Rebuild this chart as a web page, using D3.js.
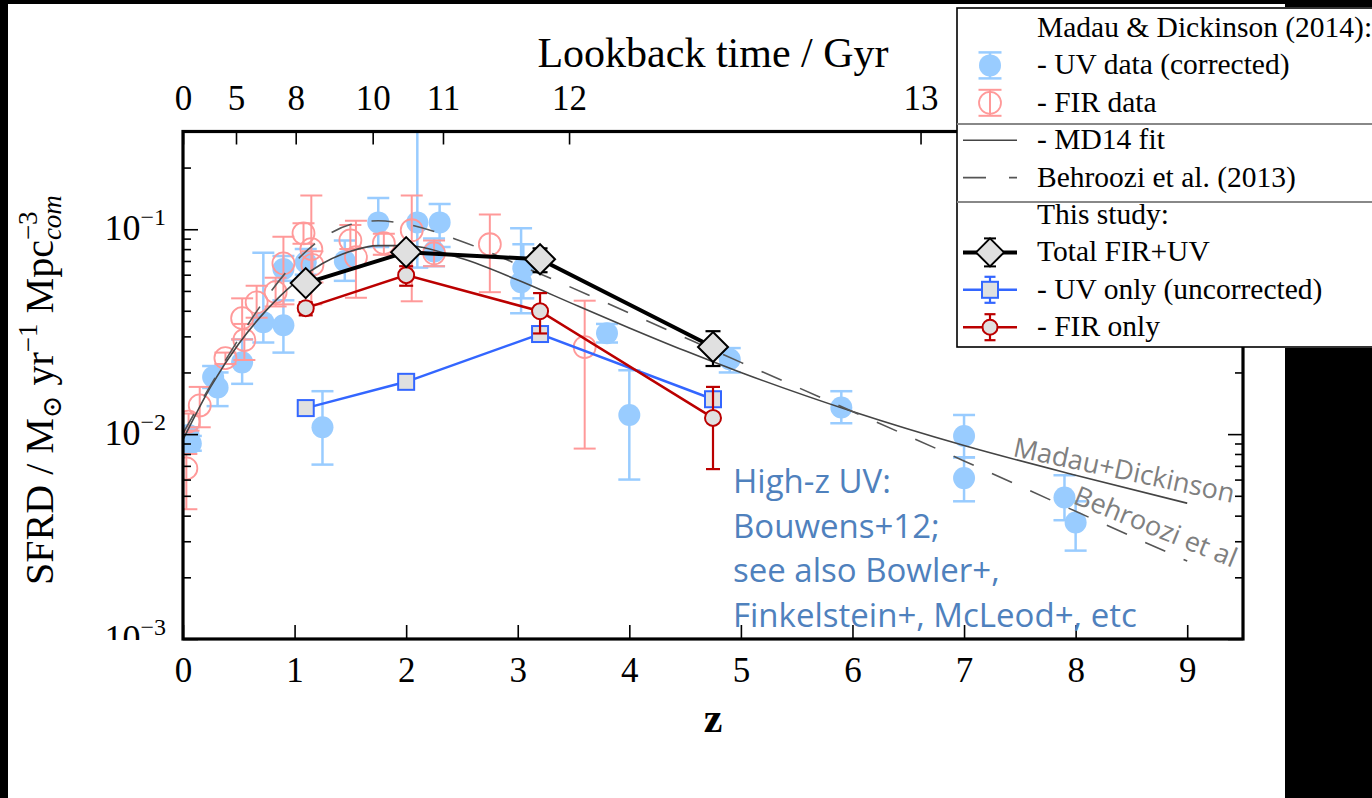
<!DOCTYPE html>
<html>
<head>
<meta charset="utf-8">
<script src="https://cdn.jsdelivr.net/npm/d3@7"></script>
<style>
  body { margin: 0; background: #fff; }
  svg { display: block; }
</style>
</head>
<body>
<div id="chart"></div>
<script>
// Madau & Dickinson (2014) compilation, UV (corrected)
const mdUvZ    = [0.05, 0.07, 0.27, 0.31, 0.53, 0.72, 0.90, 0.90, 1.10, 1.25, 1.45, 1.75, 2.10, 2.25, 2.30, 3.03, 3.05, 3.80, 4.00, 4.90, 5.90, 7.00, 7.00, 7.90, 8.00];
const mdUvSfrd = [0.0099, 0.0090, 0.0190, 0.0169, 0.0224, 0.0352, 0.0340, 0.0640, 0.0690, 0.0108, 0.0700, 0.108, 0.108, 0.078, 0.108, 0.0551, 0.0646, 0.0311, 0.0124, 0.0232, 0.0135, 0.0098, 0.0061, 0.0049, 0.0037];
const mdUvLo   = [0.0090, 0.0083, 0.0168, 0.0137, 0.0176, 0.0280, 0.0250, 0.0560, 0.0600, 0.0071, 0.0560, 0.082, 0.065, 0.066, 0.082, 0.0389, 0.0460, 0.0280, 0.0060, 0.0200, 0.0113, 0.0077, 0.0047, 0.0038, 0.0027];
const mdUvHi   = [0.0108, 0.0098, 0.0215, 0.0200, 0.0290, 0.0768, 0.0450, 0.0740, 0.0800, 0.0162, 0.0880, 0.142, 0.600, 0.090, 0.133, 0.1010, 0.0845, 0.0345, 0.0205, 0.0263, 0.0162, 0.0124, 0.0077, 0.0063, 0.0047];

// Madau & Dickinson (2014) compilation, FIR
const mdFirZ    = [0.03, 0.05, 0.15, 0.38, 0.55, 0.53, 0.66, 0.83, 0.90, 1.08, 1.15, 1.16, 1.50, 1.55, 1.80, 2.05, 2.25, 2.75, 3.60];
const mdFirSfrd = [0.0068, 0.0115, 0.0138, 0.0235, 0.0288, 0.0368, 0.0440, 0.0493, 0.0682, 0.0955, 0.0800, 0.0670, 0.0883, 0.0730, 0.0855, 0.0989, 0.0763, 0.0845, 0.0266];
const mdFirLo   = [0.0043, 0.0104, 0.0108, 0.0220, 0.0230, 0.0290, 0.0370, 0.0420, 0.0430, 0.0850, 0.0430, 0.0550, 0.0800, 0.0463, 0.0750, 0.0445, 0.0660, 0.0493, 0.0085];
const mdFirHi   = [0.0080, 0.0126, 0.0170, 0.0250, 0.0345, 0.0460, 0.0530, 0.0580, 0.0920, 0.1070, 0.1460, 0.0780, 0.1050, 0.1100, 0.0950, 0.1460, 0.0880, 0.1180, 0.0448];

// MD14 fit and Behroozi et al. (2013)
const fitZ    = [0, 0.25, 0.5, 0.75, 1, 1.25, 1.5, 1.75, 2, 2.5, 3, 3.5, 4, 4.5, 5, 6, 7, 8, 9];
const fitSfrd = [0.0094, 0.0171, 0.0276, 0.0404, 0.0546, 0.0680, 0.0781, 0.0832, 0.0831, 0.0719, 0.0565, 0.0431, 0.0330, 0.0255, 0.0200, 0.0129, 0.0088, 0.0063, 0.0046];
const behZ    = [0, 0.25, 0.5, 0.75, 1, 1.25, 1.5, 1.75, 2, 2.5, 3, 4, 5, 6, 7, 8, 9];
const behSfrd = [0.0101, 0.0174, 0.0292, 0.0466, 0.0687, 0.0905, 0.1054, 0.1100, 0.1060, 0.0872, 0.0674, 0.0390, 0.0224, 0.0129, 0.0074, 0.0042, 0.0024];

// This study
const studyZ    = [1.1, 2.0, 3.2, 4.75];
const totalSfrd = [0.0546, 0.0773, 0.0714, 0.0266];
const totalLo   = [0.0525, 0.0745, 0.0617, 0.0215];
const totalHi   = [0.0570, 0.0800, 0.0807, 0.0318];
const uvSfrd    = [0.0134, 0.0180, 0.0308, 0.0148];
const uvLo      = [0.0131, 0.0176, 0.0301, 0.0144];
const uvHi      = [0.0137, 0.0184, 0.0315, 0.0152];
const firSfrd   = [0.0412, 0.0597, 0.0398, 0.0120];
const firLo     = [0.0380, 0.0530, 0.0310, 0.00675];
const firHi     = [0.0440, 0.0660, 0.0488, 0.0170];

// axes
const zTicks        = [0, 1, 2, 3, 4, 5, 6, 7, 8, 9];
const lookbackTicks = [0, 5, 8, 10, 11, 12, 13];
const lookbackZ     = [0, 0.475, 1.01, 1.70, 2.33, 3.46, 6.61];
const yMajor        = [0.001, 0.01, 0.1];
const yExponents    = ['−3', '−2', '−1'];

const legendLabels = ['Madau & Dickinson (2014):', '- UV data (corrected)', '- FIR data', '- MD14 fit',
  'Behroozi et al. (2013)', 'This study:', 'Total FIR+UV', '- UV only (uncorrected)', '- FIR only'];
const noteLines = ['High-z UV:', 'Bouwens+12;', 'see also Bowler+,', 'Finkelstein+, McLeod+, etc'];

const serif = '"Liberation Serif", "DejaVu Serif", serif';
const sans = '"Open Sans", "Noto Sans", sans-serif';

const width = 1372;
const height = 798;
const plot = {left: 183, right: 1243, top: 131.5, bottom: 639};

const colMdUv = '#99ccff';
const colMdFir = '#ff9999';
const colUv = '#3366ff';
const colFir = '#bb0000';
const colFill = '#e0e0e0';

const x = d3.scaleLinear().domain([0, 9.5]).range([plot.left, plot.right]);
const y = d3.scaleLog().domain([0.001, 0.3]).range([plot.bottom, plot.top]);

const svg = d3.select('#chart')
  .append('svg')
  .attr('width', width)
  .attr('height', height);

svg.append('rect').attr('width', width).attr('height', height).attr('fill', '#fff');

const defs = svg.append('defs');
defs.append('clipPath').attr('id', 'plot-clip')
  .append('rect')
  .attr('x', plot.left).attr('y', plot.top)
  .attr('width', plot.right - plot.left).attr('height', plot.bottom - plot.top);
defs.append('clipPath').attr('id', 'label-clip')
  .append('rect')
  .attr('x', 0).attr('y', 0).attr('width', plot.left).attr('height', plot.bottom + 1);

let errorBars = (g, zs, lo, hi, color, lw, cap) => {
  const idx = d3.range(zs.length);
  g.selectAll(null).data(idx).enter().append('line')
    .attr('x1', i => x(zs[i])).attr('x2', i => x(zs[i]))
    .attr('y1', i => y(lo[i])).attr('y2', i => y(hi[i]))
    .attr('stroke', color).attr('stroke-width', lw);
  [lo, hi].forEach(arr => {
    g.selectAll(null).data(idx).enter().append('line')
      .attr('x1', i => x(zs[i]) - cap).attr('x2', i => x(zs[i]) + cap)
      .attr('y1', i => y(arr[i])).attr('y2', i => y(arr[i]))
      .attr('stroke', color).attr('stroke-width', lw);
  });
};

let diamond = s => `M0,${-s}L${s},0L0,${s}L${-s},0Z`;

// ---- data layer ----
const dataLayer = svg.append('g').attr('clip-path', 'url(#plot-clip)');

const uvGroup = dataLayer.append('g');
errorBars(uvGroup, mdUvZ, mdUvLo, mdUvHi, colMdUv, 2.5, 11);
uvGroup.selectAll('circle').data(mdUvZ).enter().append('circle')
  .attr('cx', d => x(d)).attr('cy', (d, i) => y(mdUvSfrd[i]))
  .attr('r', 11).attr('fill', colMdUv);

const firGroup = dataLayer.append('g');
errorBars(firGroup, mdFirZ, mdFirLo, mdFirHi, colMdFir, 2, 11);
firGroup.selectAll('circle').data(mdFirZ).enter().append('circle')
  .attr('cx', d => x(d)).attr('cy', (d, i) => y(mdFirSfrd[i]))
  .attr('r', 11).attr('fill', 'none').attr('stroke', colMdFir).attr('stroke-width', 1.8);

const curveLine = d3.line().x(d => x(d[0])).y(d => y(d[1])).curve(d3.curveMonotoneX);

dataLayer.append('path')
  .datum(fitZ.map((z, i) => [z, fitSfrd[i]]))
  .attr('d', curveLine)
  .attr('fill', 'none').attr('stroke', '#444').attr('stroke-width', 1.6);

dataLayer.append('path')
  .datum(behZ.map((z, i) => [z, behSfrd[i]]))
  .attr('d', curveLine)
  .attr('fill', 'none').attr('stroke', '#555').attr('stroke-width', 1.6)
  .attr('stroke-dasharray', '22,20');

let studySeries = (vals, lo, hi, color, lw, capW, marker) => {
  const g = dataLayer.append('g');
  const pts = studyZ.map((z, i) => [z, vals[i]]);
  g.append('path').datum(pts)
    .attr('d', d3.line().x(d => x(d[0])).y(d => y(d[1])))
    .attr('fill', 'none').attr('stroke', color).attr('stroke-width', lw);
  errorBars(g, studyZ, lo, hi, color, 2.2, capW);
  const m = g.selectAll('.mk').data(pts).enter();
  if (marker == 'diamond') {
    m.append('path').attr('d', diamond(15))
      .attr('transform', d => `translate(${x(d[0])},${y(d[1])})`)
      .attr('fill', colFill).attr('stroke', '#000').attr('stroke-width', 2);
  } else if (marker == 'square') {
    m.append('rect')
      .attr('x', d => x(d[0]) - 8).attr('y', d => y(d[1]) - 8)
      .attr('width', 16).attr('height', 16)
      .attr('fill', colFill).attr('stroke', color).attr('stroke-width', 2);
  } else {
    m.append('circle')
      .attr('cx', d => x(d[0])).attr('cy', d => y(d[1])).attr('r', 8)
      .attr('fill', colFill).attr('stroke', color).attr('stroke-width', 2);
  }
};

studySeries(uvSfrd, uvLo, uvHi, colUv, 2.5, 7, 'square');
studySeries(firSfrd, firLo, firHi, colFir, 2.5, 7, 'circle');
studySeries(totalSfrd, totalLo, totalHi, '#000', 4, 7.5, 'diamond');

// ---- axes ----
let styleTicks = g => {
  g.select('.domain').remove();
  g.selectAll('line').attr('stroke', '#000').attr('stroke-width', 1.6);
  g.selectAll('text').attr('font-family', serif).attr('font-size', 35).attr('fill', '#000');
};

svg.append('g')
  .attr('transform', `translate(0,${plot.bottom})`)
  .call(d3.axisBottom(x).tickValues(zTicks).tickSizeInner(-14).tickSizeOuter(0).tickPadding(18).tickFormat(d3.format('d')))
  .call(styleTicks);

svg.append('g')
  .attr('transform', `translate(0,${plot.top})`)
  .call(d3.axisTop(x).tickValues(lookbackZ).tickSizeInner(-13).tickSizeOuter(0).tickPadding(22)
    .tickFormat((d, i) => lookbackTicks[i]))
  .call(styleTicks);

const isMajor = d => Math.abs(Math.log10(d) - Math.round(Math.log10(d))) < 1e-6;

svg.append('g')
  .attr('transform', `translate(${plot.left},0)`)
  .call(d3.axisLeft(y).tickValues(y.ticks()).tickSizeOuter(0).tickFormat(''))
  .call(styleTicks)
  .selectAll('.tick line').attr('x2', d => isMajor(d) ? 15 : 8);

svg.append('g')
  .attr('transform', `translate(${plot.right},0)`)
  .call(d3.axisRight(y).tickValues(y.ticks()).tickSizeOuter(0).tickFormat(''))
  .call(styleTicks)
  .selectAll('.tick line').attr('x2', d => isMajor(d) ? -15 : -8);

const yLabels = svg.append('g').attr('clip-path', 'url(#label-clip)');
yMajor.forEach((v, i) => {
  const t = yLabels.append('text')
    .attr('x', 166).attr('y', y(v) + 11)
    .attr('text-anchor', 'end')
    .attr('font-family', serif).attr('font-size', 36);
  t.append('tspan').text('10');
  t.append('tspan').attr('font-size', 24).attr('dy', -15).text(yExponents[i]);
});

// spines
svg.append('rect')
  .attr('x', plot.left).attr('y', plot.top)
  .attr('width', plot.right - plot.left).attr('height', plot.bottom - plot.top)
  .attr('fill', 'none').attr('stroke', '#000').attr('stroke-width', 3.2);

// axis titles
svg.append('text')
  .attr('x', 713).attr('y', 67)
  .attr('text-anchor', 'middle')
  .attr('font-family', serif).attr('font-size', 42)
  .text('Lookback time / Gyr');

svg.append('text')
  .attr('x', 713).attr('y', 732)
  .attr('text-anchor', 'middle')
  .attr('font-family', serif).attr('font-size', 42).attr('font-weight', 'bold')
  .text('z');

const yTitle = svg.append('text')
  .attr('transform', 'translate(53,390) rotate(-90)')
  .attr('text-anchor', 'middle')
  .attr('font-family', serif).attr('font-size', 40);
yTitle.append('tspan').text('SFRD / M');
yTitle.append('tspan').attr('font-size', 27).attr('dy', 8).text('⊙');
yTitle.append('tspan').attr('dy', -8).text(' yr');
yTitle.append('tspan').attr('font-size', 27).attr('dy', -16).text('−1');
yTitle.append('tspan').attr('dy', 16).text(' Mpc');
const sup3 = yTitle.append('tspan').attr('font-size', 27).attr('dy', -16).text('−3');
yTitle.append('tspan').attr('font-size', 27).attr('font-style', 'italic')
  .attr('dy', 24).attr('dx', -sup3.node().getComputedTextLength())
  .text('com');

// annotations
const note = svg.append('text')
  .attr('font-family', sans).attr('font-size', 33).attr('fill', '#4f81bd');
noteLines.forEach((s, i) => {
  note.append('tspan').attr('x', 733).attr('y', 493 + i * 44.5).text(s);
});

svg.append('text')
  .attr('transform', 'translate(1012,456) rotate(12)')
  .attr('font-family', sans).attr('font-size', 27).attr('fill', '#7f7f7f')
  .text('Madau+Dickinson');

svg.append('text')
  .attr('transform', 'translate(1072,503) rotate(22)')
  .attr('font-family', sans).attr('font-size', 27).attr('fill', '#7f7f7f')
  .text('Behroozi et al');

// ---- legend ----
const legend = svg.append('g').attr('id', 'legend');
legend.append('rect')
  .attr('x', 957).attr('y', 8).attr('width', 430).attr('height', 339)
  .attr('fill', '#fff').attr('stroke', '#000').attr('stroke-width', 1.6);
[124, 202].forEach(ly => {
  legend.append('line').attr('x1', 957).attr('x2', width).attr('y1', ly).attr('y2', ly)
    .attr('stroke', '#888').attr('stroke-width', 2);
});

const rowY = i => 28 + i * 37.4;
legendLabels.forEach((s, i) => {
  legend.append('text')
    .attr('x', 1037).attr('y', rowY(i) + 9)
    .attr('font-family', serif).attr('font-size', 29.5)
    .text(s);
});

const lx = 990;
let legendErr = (cy, half, cap, color, lw) => {
  legend.append('line').attr('x1', lx).attr('x2', lx).attr('y1', cy - half).attr('y2', cy + half)
    .attr('stroke', color).attr('stroke-width', lw);
  [cy - half, cy + half].forEach(v => {
    legend.append('line').attr('x1', lx - cap).attr('x2', lx + cap).attr('y1', v).attr('y2', v)
      .attr('stroke', color).attr('stroke-width', lw);
  });
};
let legendLine = (cy, color, lw, dash) => {
  legend.append('line').attr('x1', 963).attr('x2', 1017).attr('y1', cy).attr('y2', cy)
    .attr('stroke', color).attr('stroke-width', lw).attr('stroke-dasharray', dash || null);
};

legendErr(rowY(1), 13, 11.5, colMdUv, 2.5);
legend.append('circle').attr('cx', lx).attr('cy', rowY(1)).attr('r', 11).attr('fill', colMdUv);
legendErr(rowY(2), 13, 11.5, colMdFir, 2);
legend.append('circle').attr('cx', lx).attr('cy', rowY(2)).attr('r', 11)
  .attr('fill', 'none').attr('stroke', colMdFir).attr('stroke-width', 1.8);
legendLine(rowY(3), '#444', 1.6);
legendLine(rowY(4), '#555', 1.6, '23,23');
legendLine(rowY(6), '#000', 4);
legendErr(rowY(6), 14, 6, '#000', 2);
legend.append('path').attr('d', diamond(14))
  .attr('transform', `translate(${lx},${rowY(6)})`)
  .attr('fill', colFill).attr('stroke', '#000').attr('stroke-width', 2);
legendLine(rowY(7), colUv, 2.5);
legendErr(rowY(7), 13, 5.5, colUv, 2.2);
legend.append('rect').attr('x', lx - 8).attr('y', rowY(7) - 8).attr('width', 16).attr('height', 16)
  .attr('fill', colFill).attr('stroke', colUv).attr('stroke-width', 2);
legendLine(rowY(8), colFir, 2.5);
legendErr(rowY(8), 13, 5.5, colFir, 2.2);
legend.append('circle').attr('cx', lx).attr('cy', rowY(8)).attr('r', 7.5)
  .attr('fill', colFill).attr('stroke', colFir).attr('stroke-width', 2);

// ---- slide frame ----
const frame = svg.append('g').attr('fill', '#000');
frame.append('rect').attr('x', 0).attr('y', 0).attr('width', width).attr('height', 4);
frame.append('rect').attr('x', 0).attr('y', 0).attr('width', 8).attr('height', height);
frame.append('rect').attr('x', 1285).attr('y', 0).attr('width', width - 1285).attr('height', 7);
frame.append('rect').attr('x', 1285).attr('y', 348).attr('width', width - 1285).attr('height', height - 348);
</script>
</body>
</html>
